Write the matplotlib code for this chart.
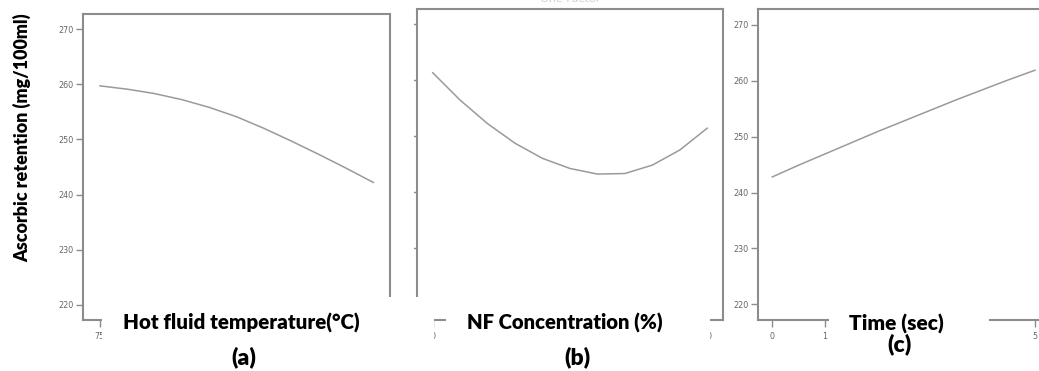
import matplotlib
matplotlib.use("Agg")
import matplotlib.pyplot as plt
from matplotlib.patches import Rectangle

# ---- data -------------------------------------------------------------
temperature = [75, 77, 79, 81, 83, 85, 87, 89, 91, 93, 95]
retention_temp = [259.7, 259.1, 258.3, 257.2, 255.8, 254.1, 252.0, 249.7, 247.3, 244.8, 242.2]

nf_conc = [0, 1, 2, 3, 4, 5, 6, 7, 8, 9, 10]
retention_nf = [261.3, 256.4, 252.2, 248.7, 246.0, 244.2, 243.2, 243.3, 244.8, 247.5, 251.4]

time_sec = [0, 0.5, 1, 1.5, 2, 2.5, 3, 3.5, 4, 4.5, 5]
retention_time = [242.8, 244.9, 246.9, 248.9, 250.9, 252.8, 254.7, 256.6, 258.4, 260.2, 261.9]

y_ticks = [220, 230, 240, 250, 260, 270]
temp_ticks = [75, 80, 85, 90, 95]
nf_ticks = [0, 5, 10]
time_ticks = [0, 1, 2, 3, 4, 5]
time_ticklabels = ["0", "1", "", "", "", "5"]

ylabel = "Ascorbic retention (mg/100ml)"
xlabels = ["Hot fluid temperature(°C)", "NF Concentration (%)", "Time (sec)"]
panel_tags = ["(a)", "(b)", "(c)"]

# ---- figure -----------------------------------------------------------
W, H = 1039, 371
fig = plt.figure(figsize=(W / 100, H / 100), dpi=100)
fig.patch.set_facecolor("white")

SPINE = "#8c8c8c"
CURVE = "#9a9a9a"
TICKLAB = "#666666"


def px_rect(left, top, right, bottom):
    return [left / W, 1 - bottom / H, (right - left) / W, (bottom - top) / H]


def style_axes(ax):
    for s in ax.spines.values():
        s.set_color(SPINE)
        s.set_linewidth(1.5)
    ax.tick_params(axis="both", direction="out", length=5, width=1,
                   color=SPINE, labelsize=5.8, labelcolor=TICKLAB)
    ax.tick_params(axis="x", pad=3.5)
    ax.tick_params(axis="y", pad=2)
    ax.set_facecolor("white")


# panel (a)
ax_a = fig.add_axes(px_rect(83, 14, 390, 320))
ax_a.plot(temperature, retention_temp, color=CURVE, lw=1.1)
ax_a.set_xlim(73.76, 96.22)
ax_a.set_ylim(217.28, 272.72)
ax_a.set_xticks(temp_ticks)
ax_a.set_yticks(y_ticks)
style_axes(ax_a)

# panel (b)
ax_b = fig.add_axes(px_rect(417, 9, 723, 320))
ax_b.plot(nf_conc, retention_nf, color=CURVE, lw=1.1)
ax_b.set_xlim(-0.572, 10.573)
ax_b.set_ylim(217.14, 272.68)
ax_b.set_xticks(nf_ticks)
ax_b.set_yticks(y_ticks)
style_axes(ax_b)

# panel (c)
ax_c = fig.add_axes(px_rect(758, 9, 1049, 320))
ax_c.plot(time_sec, retention_time, color=CURVE, lw=1.1)
ax_c.set_xlim(-0.272, 5.266)
ax_c.set_ylim(217.19, 272.86)
ax_c.set_xticks(time_ticks)
ax_c.set_xticklabels(time_ticklabels)
ax_c.set_yticks(y_ticks)
style_axes(ax_c)

# white panels behind the captions
covers = [
    (391.5, 0, 414.3, 371),
    (101.5, 297, 434.3, 371),
    (446, 297, 710, 371),
    (829, 297, 989, 371),
]
for l, t, r, b in covers:
    fig.patches.append(Rectangle((l / W, 1 - b / H), (r - l) / W, (b - t) / H,
                                 transform=fig.transFigure, facecolor="white",
                                 edgecolor="none", zorder=3))

# faint panel title at the top edge
fig.text(570 / W, 1 - 4 / H, "One Factor", ha="center", va="bottom",
         fontsize=8, color="#d0d0d0", zorder=2)

FONT = "Lato"
fig.text(22 / W, 1 - 138 / H, ylabel, rotation=90, ha="center", va="center",
         fontsize=12.9, fontweight="heavy", family=FONT, zorder=4)

label_pos = [(241, 323), (564.5, 323), (896, 324)]
label_size = [14.8, 14.6, 15]
tag_pos = [(244, 357), (577, 357), (899, 344.5)]
for text, (x, y), fs in zip(xlabels, label_pos, label_size):
    fig.text(x / W, 1 - y / H, text, ha="center", va="center",
             fontsize=fs, fontweight="heavy", family=FONT, zorder=4)
for text, (x, y) in zip(panel_tags, tag_pos):
    fig.text(x / W, 1 - y / H, text, ha="center", va="center",
             fontsize=16.5, fontweight="heavy", family=FONT, zorder=4)

fig.savefig("out.png", dpi=100, facecolor="white")
